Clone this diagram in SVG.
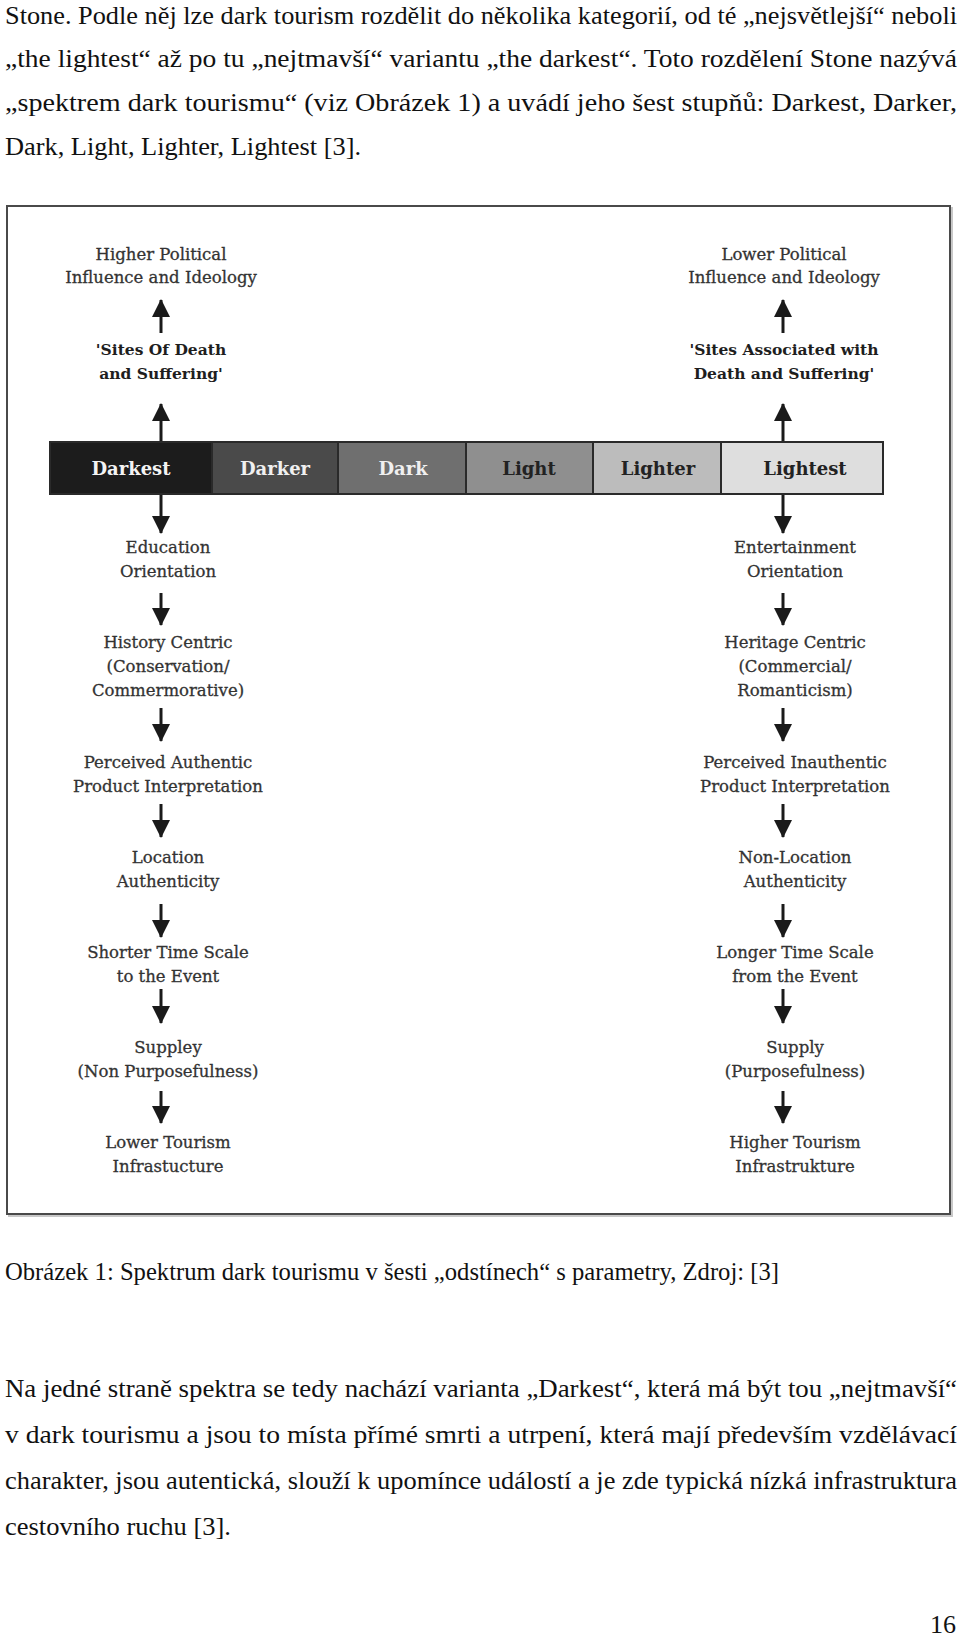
<svg xmlns="http://www.w3.org/2000/svg" width="960" height="1640" viewBox="0 0 960 1640">
<style>
.page{font-family:"Liberation Serif","Times New Roman",serif;font-size:26px;fill:#111}
.lbl{font-family:"DejaVu Serif",serif;font-size:16.5px;fill:#333333;stroke:#333333;stroke-width:0.3;text-anchor:middle}
.blbl{font-family:"DejaVu Serif",serif;font-size:15.5px;font-weight:bold;fill:#1e1e1e;text-anchor:middle}
.bar{font-family:"DejaVu Serif",serif;font-size:18px;font-weight:bold;text-anchor:middle}
.arr{stroke:#1a1a1a;stroke-width:3;fill:none}
.seg{stroke:#2a2a2a;stroke-width:2}
</style>
<defs>
<marker id="ah" markerUnits="userSpaceOnUse" markerWidth="20" markerHeight="18" viewBox="0 0 18 18" refX="17" refY="9" orient="auto">
<path d="M0,0 L18,9 L0,18 Z" fill="#1a1a1a"/>
</marker>
</defs>
<rect width="960" height="1640" fill="#ffffff"/>

<g id="text-top">
<text class="page" x="5" y="24" textLength="952" lengthAdjust="spacingAndGlyphs">Stone. Podle něj lze dark tourism rozdělit do několika kategorií, od té „nejsvětlejší“ neboli</text>
<text class="page" x="5" y="67" textLength="952" lengthAdjust="spacingAndGlyphs">„the lightest“ až po tu „nejtmavší“ variantu „the darkest“. Toto rozdělení Stone nazývá</text>
<text class="page" x="5" y="111" textLength="952" lengthAdjust="spacingAndGlyphs">„spektrem dark tourismu“ (viz Obrázek 1) a uvádí jeho šest stupňů: Darkest, Darker,</text>
<text class="page" x="5" y="155" textLength="356" lengthAdjust="spacingAndGlyphs">Dark, Light, Lighter, Lightest [3].</text>
</g>

<g id="frame">
<rect x="9" y="208" width="943" height="1008" fill="none" stroke="#c8c8c8" stroke-width="2"/>
<rect x="7" y="206" width="943" height="1008" fill="#ffffff" stroke="#4a4a4a" stroke-width="2"/>
</g>

<g id="connectors">
<line class="arr" x1="161" y1="333" x2="161" y2="300" marker-end="url(#ah)"/>
<line class="arr" x1="161" y1="442" x2="161" y2="404" marker-end="url(#ah)"/>
<line class="arr" x1="783" y1="333" x2="783" y2="300" marker-end="url(#ah)"/>
<line class="arr" x1="783" y1="442" x2="783" y2="404" marker-end="url(#ah)"/>
<line class="arr" x1="161" y1="494" x2="161" y2="533" marker-end="url(#ah)"/>
<line class="arr" x1="161" y1="593" x2="161" y2="625" marker-end="url(#ah)"/>
<line class="arr" x1="161" y1="708" x2="161" y2="741" marker-end="url(#ah)"/>
<line class="arr" x1="161" y1="804" x2="161" y2="837" marker-end="url(#ah)"/>
<line class="arr" x1="161" y1="904" x2="161" y2="937" marker-end="url(#ah)"/>
<line class="arr" x1="161" y1="989" x2="161" y2="1023" marker-end="url(#ah)"/>
<line class="arr" x1="161" y1="1091" x2="161" y2="1123" marker-end="url(#ah)"/>
<line class="arr" x1="783" y1="494" x2="783" y2="533" marker-end="url(#ah)"/>
<line class="arr" x1="783" y1="593" x2="783" y2="625" marker-end="url(#ah)"/>
<line class="arr" x1="783" y1="708" x2="783" y2="741" marker-end="url(#ah)"/>
<line class="arr" x1="783" y1="804" x2="783" y2="837" marker-end="url(#ah)"/>
<line class="arr" x1="783" y1="904" x2="783" y2="937" marker-end="url(#ah)"/>
<line class="arr" x1="783" y1="989" x2="783" y2="1023" marker-end="url(#ah)"/>
<line class="arr" x1="783" y1="1091" x2="783" y2="1123" marker-end="url(#ah)"/>
</g>

<g id="spectrum">
<rect class="seg" x="50" y="442" width="162" height="52" fill="#1c1c1c"/>
<rect class="seg" x="212" y="442" width="126" height="52" fill="#4a4a4a"/>
<rect class="seg" x="338" y="442" width="128" height="52" fill="#6f6f6f"/>
<rect class="seg" x="466" y="442" width="127" height="52" fill="#8f8f8f"/>
<rect class="seg" x="593" y="442" width="128" height="52" fill="#bcbcbc"/>
<rect class="seg" x="721" y="442" width="162" height="52" fill="#dedede"/>
<text class="bar" x="131" y="475" fill="#f4f4f4">Darkest</text>
<text class="bar" x="275" y="475" fill="#f0f0f0">Darker</text>
<text class="bar" x="403" y="475" fill="#f0f0f0">Dark</text>
<text class="bar" x="529" y="475" fill="#222222">Light</text>
<text class="bar" x="658" y="475" fill="#222222">Lighter</text>
<text class="bar" x="805" y="475" fill="#222222">Lightest</text>
</g>

<g id="n-higher-political"><text class="lbl" x="161" y="260">Higher Political</text><text class="lbl" x="161" y="283">Influence and Ideology</text></g>
<g id="n-sites-death"><text class="blbl" x="161" y="355">'Sites Of Death</text><text class="blbl" x="161" y="379">and Suffering'</text></g>
<g id="n-lower-political"><text class="lbl" x="784" y="260">Lower Political</text><text class="lbl" x="784" y="283">Influence and Ideology</text></g>
<g id="n-sites-assoc"><text class="blbl" x="784" y="355">'Sites Associated with</text><text class="blbl" x="784" y="379">Death and Suffering'</text></g>

<g id="n-education"><text class="lbl" x="168" y="553">Education</text><text class="lbl" x="168" y="577">Orientation</text></g>
<g id="n-history"><text class="lbl" x="168" y="648">History Centric</text><text class="lbl" x="168" y="672">(Conservation/</text><text class="lbl" x="168" y="696">Commermorative)</text></g>
<g id="n-authentic"><text class="lbl" x="168" y="768">Perceived Authentic</text><text class="lbl" x="168" y="792">Product Interpretation</text></g>
<g id="n-location"><text class="lbl" x="168" y="863">Location</text><text class="lbl" x="168" y="887">Authenticity</text></g>
<g id="n-shorter"><text class="lbl" x="168" y="958">Shorter Time Scale</text><text class="lbl" x="168" y="982">to the Event</text></g>
<g id="n-suppley"><text class="lbl" x="168" y="1053">Suppley</text><text class="lbl" x="168" y="1077">(Non Purposefulness)</text></g>
<g id="n-lower-tourism"><text class="lbl" x="168" y="1148">Lower Tourism</text><text class="lbl" x="168" y="1172">Infrastucture</text></g>

<g id="n-entertainment"><text class="lbl" x="795" y="553">Entertainment</text><text class="lbl" x="795" y="577">Orientation</text></g>
<g id="n-heritage"><text class="lbl" x="795" y="648">Heritage Centric</text><text class="lbl" x="795" y="672">(Commercial/</text><text class="lbl" x="795" y="696">Romanticism)</text></g>
<g id="n-inauthentic"><text class="lbl" x="795" y="768">Perceived Inauthentic</text><text class="lbl" x="795" y="792">Product Interpretation</text></g>
<g id="n-nonlocation"><text class="lbl" x="795" y="863">Non-Location</text><text class="lbl" x="795" y="887">Authenticity</text></g>
<g id="n-longer"><text class="lbl" x="795" y="958">Longer Time Scale</text><text class="lbl" x="795" y="982">from the Event</text></g>
<g id="n-supply"><text class="lbl" x="795" y="1053">Supply</text><text class="lbl" x="795" y="1077">(Purposefulness)</text></g>
<g id="n-higher-tourism"><text class="lbl" x="795" y="1148">Higher Tourism</text><text class="lbl" x="795" y="1172">Infrastrukture</text></g>

<g id="text-bottom">
<text class="page" x="5" y="1280" textLength="774" lengthAdjust="spacingAndGlyphs">Obrázek 1: Spektrum dark tourismu v šesti „odstínech“ s parametry, Zdroj: [3]</text>
<text class="page" x="5" y="1397" textLength="952" lengthAdjust="spacingAndGlyphs">Na jedné straně spektra se tedy nachází varianta „Darkest“, která má být tou „nejtmavší“</text>
<text class="page" x="5" y="1443" textLength="952" lengthAdjust="spacingAndGlyphs">v dark tourismu a jsou to místa přímé smrti a utrpení, která mají především vzdělávací</text>
<text class="page" x="5" y="1489" textLength="952" lengthAdjust="spacingAndGlyphs">charakter, jsou autentická, slouží k upomínce událostí a je zde typická nízká infrastruktura</text>
<text class="page" x="5" y="1535" textLength="226" lengthAdjust="spacingAndGlyphs">cestovního ruchu [3].</text>
<text class="page" x="956" y="1633" text-anchor="end">16</text>
</g>
</svg>
